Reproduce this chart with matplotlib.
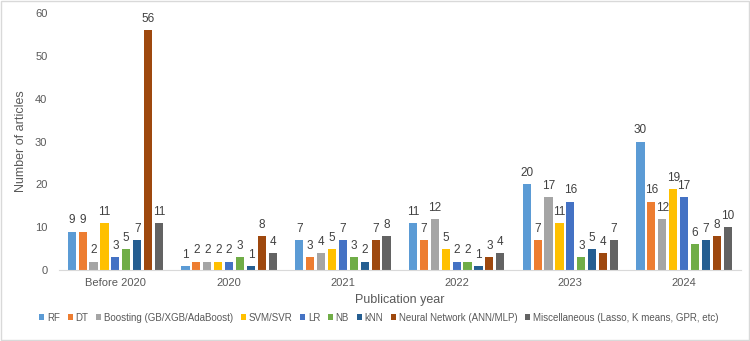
import matplotlib.pyplot as plt
import numpy as np

plt.rcParams['font.family'] = ['Liberation Sans', 'DejaVu Sans']

years = ["Before 2020", "2020", "2021", "2022", "2023", "2024"]
methods = ["RF", "DT", "Boosting (GB/XGB/AdaBoost)", "SVM/SVR", "LR", "NB", "kNN",
           "Neural Network (ANN/MLP)", "Miscellaneous (Lasso, K means, GPR, etc)"]
counts = [
    [9, 1, 7, 11, 20, 30],
    [9, 2, 3, 7, 7, 16],
    [2, 2, 4, 12, 17, 12],
    [11, 2, 5, 5, 11, 19],
    [3, 2, 7, 2, 16, 17],
    [5, 3, 3, 2, 3, 6],
    [7, 1, 2, 1, 5, 7],
    [56, 8, 7, 3, 4, 8],
    [11, 4, 8, 4, 7, 10],
]
colors = ["#5B9BD5", "#ED7D31", "#A5A5A5", "#FFC000", "#4472C4", "#70AD47",
          "#255E91", "#9E480E", "#636363"]

txt = "#595959"
fig = plt.figure(figsize=(7.5, 3.41), dpi=100)
fig.patches.append(plt.Rectangle((0.001, 0.002), 0.997, 0.995, transform=fig.transFigure,
                                 fill=False, edgecolor="#D9D9D9", lw=1))
ax = fig.add_axes([0.078, 0.208, 0.91, 0.754])

x = np.arange(len(years))
slot = 0.096
w = 0.072
for i, (m, vals) in enumerate(zip(methods, counts)):
    pos = x + (i - 4) * slot
    bars = ax.bar(pos, vals, w, color=colors[i], label=m)
    for b, v in zip(bars, vals):
        ax.text(b.get_x() + b.get_width() / 2, v + 1.2, str(v), ha="center", va="bottom",
                fontsize=8.5, color="#404040")

ax.set_xlim(-0.5, len(years) - 0.5)
ax.set_ylim(0, 60)
ax.set_yticks(range(0, 61, 10))
ax.set_xticks(x)
ax.set_xticklabels(years)
ax.tick_params(axis="both", length=0, labelsize=8, colors=txt)
ax.tick_params(axis="x", pad=6)
ax.tick_params(axis="y", pad=8)
for s in ["top", "right", "left"]:
    ax.spines[s].set_visible(False)
ax.spines["bottom"].set_color("#D9D9D9")
ax.set_ylabel("Number of articles", fontsize=9, color=txt, labelpad=6)
ax.set_xlabel("Publication year", fontsize=9, color=txt, labelpad=4)

fig.legend(loc="center", bbox_to_anchor=(0.505, 0.068), ncol=9, frameon=False,
           fontsize=7, labelcolor=txt, handlelength=0.55, handleheight=0.55,
           handletextpad=0.25, columnspacing=0.8, borderaxespad=0)

fig.savefig("out.png", dpi=100)
